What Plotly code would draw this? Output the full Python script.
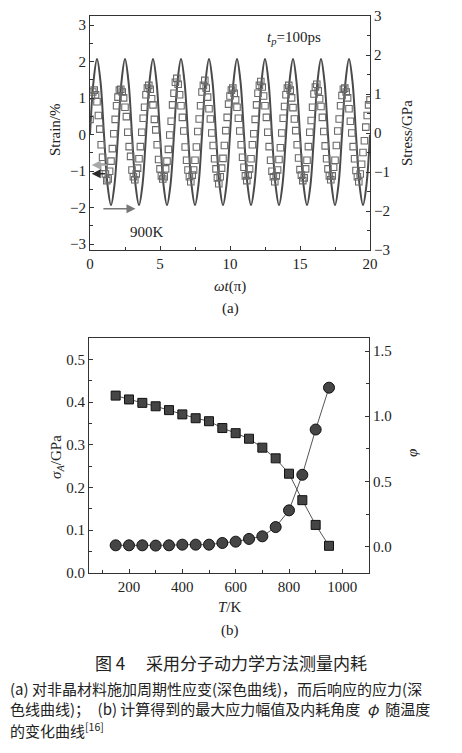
import plotly.graph_objects as go

W, H = 462, 753

# panel (a): strain curve (left axis) and stress points (right axis)
strain_x = [i * 0.25 for i in range(81)]
strain_y = [0, 1.45, 2.07, 1.45, 0, -1.37, -1.93, -1.37,
            0, 1.45, 2.07, 1.45, 0, -1.37, -1.93, -1.37,
            0, 1.45, 2.07, 1.45, 0, -1.37, -1.93, -1.37,
            0, 1.45, 2.07, 1.45, 0, -1.37, -1.93, -1.37,
            0, 1.45, 2.07, 1.45, 0, -1.37, -1.93, -1.37,
            0, 1.45, 2.07, 1.45, 0, -1.37, -1.93, -1.37,
            0, 1.45, 2.07, 1.45, 0, -1.37, -1.93, -1.37,
            0, 1.45, 2.07, 1.45, 0, -1.37, -1.93, -1.37,
            0, 1.45, 2.07, 1.45, 0, -1.37, -1.93, -1.37,
            0, 1.45, 2.07, 1.45, 0, -1.37, -1.93, -1.37,
            0]

stress_x = [round(i * 0.1, 1) for i in range(201)]
stress_y = [
    0.35, 0.95, 1.05, 1.10, 0.98, 0.80, 0.45, 0.10, -0.30, -0.62,
    -0.88, -1.05, -1.22, -1.18, -0.98, -0.72, -0.40, -0.02, 0.35, 0.70,
    0.92, 1.10, 1.12, 1.05, 0.90, 0.66, 0.42, 0.02, -0.35, -0.60,
    -0.95, -1.12, -1.20, -1.05, -0.90, -0.66, -0.35, 0.02, 0.38, 0.66,
    0.98, 1.15, 1.22, 1.12, 0.88, 0.72, 0.35, 0.08, -0.30, -0.68,
    -0.92, -1.10, -1.18, -1.12, -0.92, -0.72, -0.42, -0.05, 0.30, 0.72,
    1.02, 1.30, 1.40, 1.25, 0.98, 0.70, 0.40, 0.05, -0.36, -0.70,
    -0.95, -1.12, -1.25, -1.08, -0.95, -0.70, -0.36, 0.04, 0.36, 0.70,
    1.05, 1.22, 1.35, 1.15, 0.92, 0.62, 0.36, 0.00, -0.32, -0.66,
    -0.92, -1.15, -1.30, -1.12, -0.90, -0.65, -0.32, 0.06, 0.40, 0.74,
    0.95, 1.10, 1.15, 1.02, 0.85, 0.66, 0.38, 0.05, -0.30, -0.62,
    -0.88, -1.10, -1.22, -1.08, -0.92, -0.66, -0.30, -0.02, 0.35, 0.72,
    1.02, 1.22, 1.32, 1.18, 0.95, 0.70, 0.40, 0.02, -0.35, -0.70,
    -0.98, -1.12, -1.25, -1.10, -0.95, -0.68, -0.38, 0.00, 0.38, 0.68,
    0.98, 1.15, 1.22, 1.10, 0.90, 0.65, 0.36, 0.06, -0.30, -0.64,
    -0.94, -1.08, -1.22, -1.15, -0.92, -0.70, -0.35, 0.02, 0.32, 0.66,
    1.00, 1.18, 1.25, 1.08, 0.88, 0.68, 0.40, 0.04, -0.33, -0.66,
    -0.92, -1.10, -1.20, -1.10, -0.88, -0.70, -0.32, 0.05, 0.36, 0.70,
    0.96, 1.12, 1.15, 1.05, 0.90, 0.62, 0.30, 0.00, -0.35, -0.66,
    -0.96, -1.12, -1.25, -1.05, -0.80, -0.50, -0.20, 0.15, 0.45, 0.72,
    0.85,
]

# panel (b): stress amplitude and loss angle vs temperature
temps = [150, 200, 250, 300, 350, 400, 450, 500, 550,
         600, 650, 700, 750, 800, 850, 900, 950]
sigma_a = [0.415, 0.406, 0.398, 0.390, 0.381, 0.371, 0.362, 0.355, 0.339,
           0.327, 0.314, 0.293, 0.268, 0.232, 0.170, 0.112, 0.063]
phi = [0.010, 0.010, 0.010, 0.008, 0.010, 0.015, 0.015, 0.015, 0.028,
       0.038, 0.059, 0.079, 0.150, 0.278, 0.551, 0.898, 1.219]

SERIF = "Liberation Serif"
CJK = "Noto Sans CJK SC"
INK = "#333333"


def px_x(p):
    return p / W


def px_y(p):
    return 1 - p / H


fig = go.Figure()

fig.add_trace(go.Scatter(x=stress_x, y=stress_y, yaxis="y2", xaxis="x",
                         mode="markers",
                         marker=dict(symbol="square-open", size=6.5,
                                     color="#6a6a6a", line=dict(width=1.1))))
fig.add_trace(go.Scatter(x=strain_x, y=strain_y, xaxis="x", yaxis="y",
                         mode="lines",
                         line=dict(color="#4a4a4a", width=2, shape="spline")))

fig.add_trace(go.Scatter(x=temps, y=sigma_a, xaxis="x2", yaxis="y3",
                         mode="lines+markers",
                         line=dict(color="#555555", width=1),
                         marker=dict(symbol="square", size=9, color="#454545",
                                     line=dict(color="#111111", width=1))))
fig.add_trace(go.Scatter(x=temps, y=phi, xaxis="x2", yaxis="y4",
                         mode="lines+markers",
                         line=dict(color="#555555", width=1),
                         marker=dict(symbol="circle", size=11, color="#454545",
                                     line=dict(color="#111111", width=1))))

axis_common = dict(showgrid=False, zeroline=False, showline=True, automargin=False,
                   linecolor=INK, linewidth=1, ticks="inside", ticklen=4,
                   tickcolor=INK, tickfont=dict(family=SERIF, size=15, color="#222"),
                   minor=dict(ticks="inside", ticklen=3, tickcolor=INK))

fig.update_layout(
    width=W, height=H, margin=dict(l=0, r=0, t=0, b=0),
    paper_bgcolor="white", plot_bgcolor="white", showlegend=False,
    xaxis=dict(axis_common, domain=[px_x(90), px_x(370)], anchor="y",
               range=[0, 20], dtick=5, mirror=True,
               minor=dict(axis_common["minor"], dtick=2.5)),
    yaxis=dict(axis_common, domain=[px_y(250), px_y(16)], anchor="x",
               range=[-3.16, 3.25], dtick=1,
               minor=dict(axis_common["minor"], dtick=0.5)),
    yaxis2=dict(axis_common, overlaying="y", side="right", anchor="x",
                range=[-3, 3], dtick=1,
                minor=dict(axis_common["minor"], dtick=0.5)),
    xaxis2=dict(axis_common, domain=[px_x(89), px_x(369)], anchor="y3",
                range=[50, 1100], tickvals=[200, 400, 600, 800, 1000],
                mirror=True,
                minor=dict(axis_common["minor"], tickvals=[100, 300, 500, 700, 900])),
    yaxis3=dict(axis_common, domain=[px_y(572.7), px_y(338)], anchor="x2",
                range=[0, 0.55], dtick=0.1, tickformat=".1f",
                minor=dict(axis_common["minor"], dtick=0.05)),
    yaxis4=dict(axis_common, overlaying="y3", side="right", anchor="x2",
                range=[-0.2, 1.6], tickvals=[0, 0.5, 1.0, 1.5], tickformat=".1f",
                minor=dict(axis_common["minor"], tickvals=[0.25, 0.75, 1.25])),
)


def label(text, x, y, size=15, angle=0, family=SERIF, xanchor="center"):
    fig.add_annotation(text=text, x=px_x(x), y=px_y(y), xref="paper", yref="paper",
                       showarrow=False, textangle=angle, xanchor=xanchor,
                       yanchor="middle",
                       font=dict(family=family, size=size, color="#222"))


# panel (a) texts
label("Strain/%", 55, 130, angle=-90)
label("Stress/GPa", 407, 133, angle=-90)
label("<i>ωt</i>(π)", 230, 286)
label("(a)", 230, 308)
fig.add_annotation(text="<i>t</i><sub><i>p</i></sub>=100ps", x=14.6, y=2.64,
                   xref="x", yref="y", showarrow=False,
                   font=dict(family=SERIF, size=15, color="#222"))
fig.add_annotation(text="900K", x=4.05, y=-2.66, xref="x", yref="y",
                   showarrow=False, font=dict(family=SERIF, size=15, color="#222"))

# arrows pointing to the axes
for y0, tail, col in [(-0.83, 1.35, "#a8a8a8"), (-1.07, 1.2, "#2a2a2a")]:
    fig.add_annotation(x=0.12, y=y0, ax=tail, ay=y0, xref="x", yref="y",
                       axref="x", ayref="y", text="", showarrow=True,
                       arrowhead=2, arrowsize=1.2, arrowwidth=1.5, arrowcolor=col)
fig.add_annotation(x=3.25, y=-2.03, ax=0.85, ay=-2.03, xref="x", yref="y",
                   axref="x", ayref="y", text="", showarrow=True,
                   arrowhead=2, arrowsize=1.2, arrowwidth=1.5, arrowcolor="#777777")

# panel (b) texts
label("<i>σ</i><sub><i>A</i></sub>/GPa", 57, 457, angle=-90)
label("<i>φ</i>", 412, 453, angle=-90)
label("<i>T</i>/K", 230, 607)
label("(b)", 230, 630)

# caption
label("图 4　 采用分子动力学方法测量内耗", 231, 662, size=17, family=CJK)
caption = [
    ("(a) 对非晶材料施加周期性应变(深色曲线)，而后响应的应力(深", 688),
    ("色线曲线)；\u3000(b) 计算得到的最大应力幅值及内耗角度\u00a0 <i>φ</i> \u00a0随温度", 708),
    ("的变化曲线<sup>[16]</sup>", 730),
]
for txt, yy in caption:
    label(txt, 8, yy, size=15, family=CJK, xanchor="left")

# the page body has a default 8px margin; drop it so pixels line up
fig.write_html("out.html", config={"displayModeBar": False},
               post_script="document.body.style.margin='0';")
